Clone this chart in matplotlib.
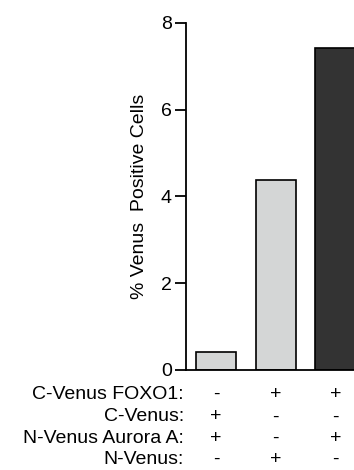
import matplotlib
matplotlib.use("Agg")
import matplotlib.pyplot as plt
import matplotlib.transforms as mtransforms

plt.rcParams['font.family'] = ['Liberation Sans', 'DejaVu Sans']

values = [0.42, 4.38, 7.42]
bar_colors = ['#d4d6d6', '#d4d6d6', '#333333']
row_names = ['C-Venus FOXO1:', 'C-Venus:', 'N-Venus Aurora A:', 'N-Venus:']
signs = [['-', '+', '+'],
         ['+', '-', '-'],
         ['+', '-', '+'],
         ['-', '+', '-']]
yticks = [0, 2, 4, 6, 8]

fig = plt.figure(figsize=(3.54, 4.70), dpi=100)
ax = fig.add_axes([0.525, 0.2128, 0.48, 0.7383])

x = list(range(len(values)))
ax.bar(x, values, width=0.68, color=bar_colors, edgecolor='black', linewidth=1.2)

ax.set_xlim(-0.508, 2.34)
ax.set_ylim(0, 8)
ax.set_yticks(yticks)
ax.set_xticks([])
ax.spines['top'].set_visible(False)
ax.spines['right'].set_visible(False)
ax.spines['left'].set_linewidth(1.3)
ax.spines['bottom'].set_linewidth(1.3)
ax.tick_params(axis='y', length=8, width=1.3, labelsize=14, pad=2)
ax.set_ylabel('% Venus  Positive Cells', fontsize=14, labelpad=9)

# sign table below the bars
trans = mtransforms.blended_transform_factory(ax.transData, fig.transFigure)
row_y = [0.160, 0.113, 0.068, 0.023]
for r, name in enumerate(row_names):
    fig.text(0.52, row_y[r], name, ha='right', va='center', fontsize=14)
    for i in x:
        ax.text(i, row_y[r], signs[r][i], ha='center', va='center',
                fontsize=14, transform=trans, clip_on=False)

fig.savefig('out.png', dpi=100)
